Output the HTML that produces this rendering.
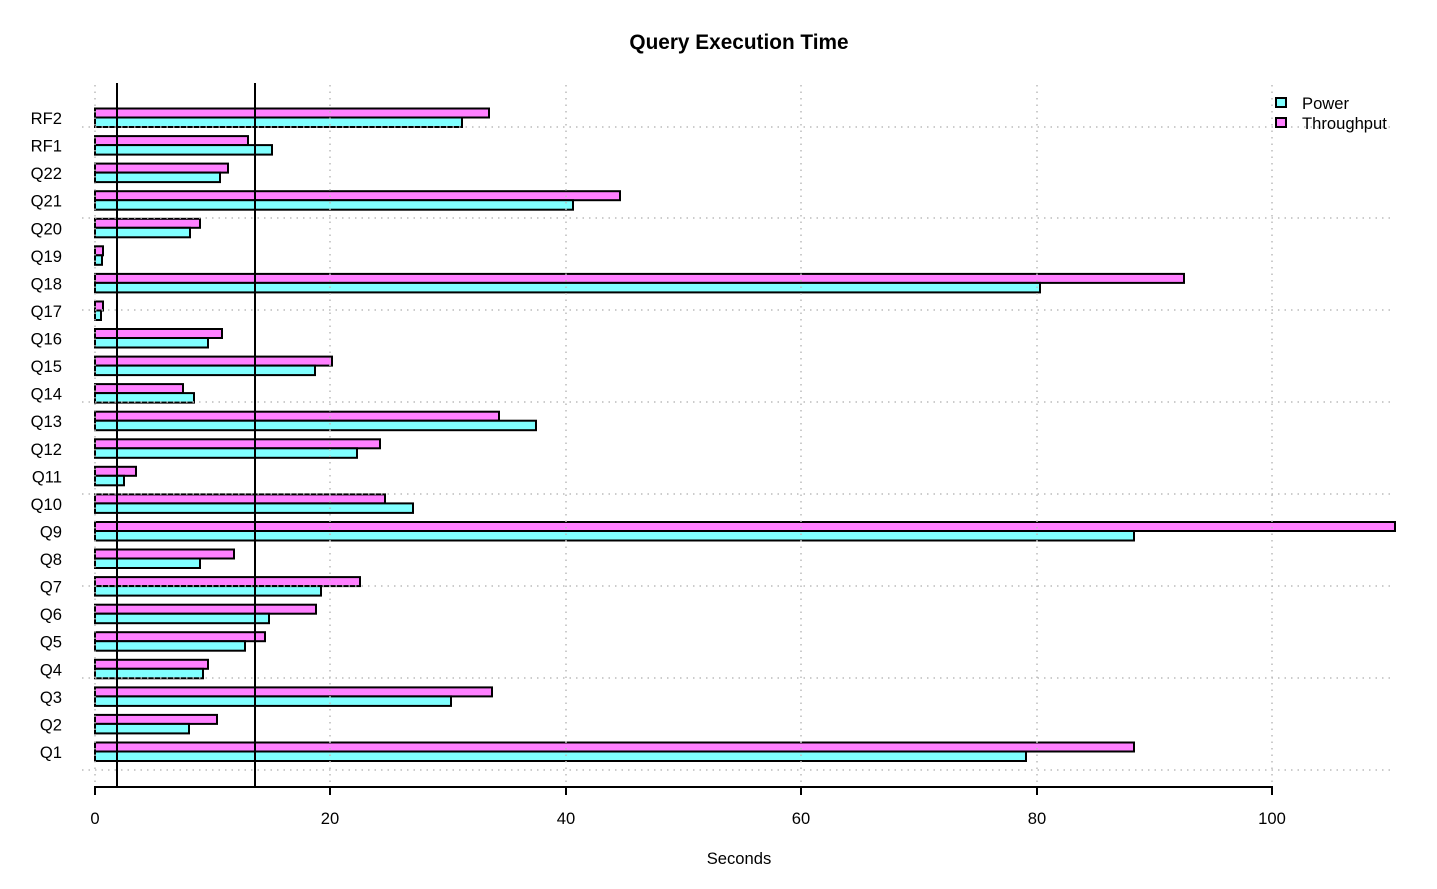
<!DOCTYPE html>
<html><head><meta charset="utf-8"><style>body{margin:0;background:#fff}svg{display:block}text{font-family:"Liberation Sans",sans-serif}</style></head><body>
<svg width="1437" height="889" xmlns="http://www.w3.org/2000/svg">
<text x="739" y="49" font-size="20.8" font-weight="bold" text-anchor="middle">Query Execution Time</text>
<g stroke="#000" stroke-width="2">
<rect x="95" y="742.5" width="1039" height="9" fill="#ff80ff"/><rect x="95" y="751.5" width="931" height="9.5" fill="#80ffff"/>
<rect x="95" y="714.9" width="122" height="9" fill="#ff80ff"/><rect x="95" y="723.9" width="94" height="9.5" fill="#80ffff"/>
<rect x="95" y="687.4" width="397" height="9" fill="#ff80ff"/><rect x="95" y="696.4" width="356" height="9.5" fill="#80ffff"/>
<rect x="95" y="659.8" width="113" height="9" fill="#ff80ff"/><rect x="95" y="668.8" width="108" height="9.5" fill="#80ffff"/>
<rect x="95" y="632.2" width="170" height="9" fill="#ff80ff"/><rect x="95" y="641.2" width="150" height="9.5" fill="#80ffff"/>
<rect x="95" y="604.7" width="221" height="9" fill="#ff80ff"/><rect x="95" y="613.7" width="174" height="9.5" fill="#80ffff"/>
<rect x="95" y="577.1" width="265" height="9" fill="#ff80ff"/><rect x="95" y="586.1" width="226" height="9.5" fill="#80ffff"/>
<rect x="95" y="549.5" width="139" height="9" fill="#ff80ff"/><rect x="95" y="558.5" width="105" height="9.5" fill="#80ffff"/>
<rect x="95" y="522.0" width="1300" height="9" fill="#ff80ff"/><rect x="95" y="531.0" width="1039" height="9.5" fill="#80ffff"/>
<rect x="95" y="494.4" width="290" height="9" fill="#ff80ff"/><rect x="95" y="503.4" width="318" height="9.5" fill="#80ffff"/>
<rect x="95" y="466.8" width="41" height="9" fill="#ff80ff"/><rect x="95" y="475.8" width="29" height="9.5" fill="#80ffff"/>
<rect x="95" y="439.3" width="285" height="9" fill="#ff80ff"/><rect x="95" y="448.3" width="262" height="9.5" fill="#80ffff"/>
<rect x="95" y="411.7" width="404" height="9" fill="#ff80ff"/><rect x="95" y="420.7" width="441" height="9.5" fill="#80ffff"/>
<rect x="95" y="384.1" width="88" height="9" fill="#ff80ff"/><rect x="95" y="393.1" width="99" height="9.5" fill="#80ffff"/>
<rect x="95" y="356.6" width="237" height="9" fill="#ff80ff"/><rect x="95" y="365.6" width="220" height="9.5" fill="#80ffff"/>
<rect x="95" y="329.0" width="127" height="9" fill="#ff80ff"/><rect x="95" y="338.0" width="113" height="9.5" fill="#80ffff"/>
<rect x="95" y="301.5" width="8" height="9" fill="#ff80ff"/><rect x="95" y="310.5" width="6" height="9.5" fill="#80ffff"/>
<rect x="95" y="273.9" width="1089" height="9" fill="#ff80ff"/><rect x="95" y="282.9" width="945" height="9.5" fill="#80ffff"/>
<rect x="95" y="246.3" width="8" height="9" fill="#ff80ff"/><rect x="95" y="255.3" width="7" height="9.5" fill="#80ffff"/>
<rect x="95" y="218.8" width="105" height="9" fill="#ff80ff"/><rect x="95" y="227.8" width="95" height="9.5" fill="#80ffff"/>
<rect x="95" y="191.2" width="525" height="9" fill="#ff80ff"/><rect x="95" y="200.2" width="478" height="9.5" fill="#80ffff"/>
<rect x="95" y="163.6" width="133" height="9" fill="#ff80ff"/><rect x="95" y="172.6" width="125" height="9.5" fill="#80ffff"/>
<rect x="95" y="136.1" width="153" height="9" fill="#ff80ff"/><rect x="95" y="145.1" width="177" height="9.5" fill="#80ffff"/>
<rect x="95" y="108.5" width="394" height="9" fill="#ff80ff"/><rect x="95" y="117.5" width="367" height="9.5" fill="#80ffff"/>
</g>
<g stroke="#bbb" stroke-width="1.5" stroke-dasharray="1.5,5">
<line x1="95" y1="85" x2="95" y2="787"/><line x1="330" y1="85" x2="330" y2="787"/><line x1="566" y1="85" x2="566" y2="787"/><line x1="801" y1="85" x2="801" y2="787"/><line x1="1037" y1="85" x2="1037" y2="787"/><line x1="1272" y1="85" x2="1272" y2="787"/>
<line x1="82" y1="770" x2="1395" y2="770"/><line x1="82" y1="678" x2="1395" y2="678"/><line x1="82" y1="586" x2="1395" y2="586"/><line x1="82" y1="494" x2="1395" y2="494"/><line x1="82" y1="402" x2="1395" y2="402"/><line x1="82" y1="310" x2="1395" y2="310"/><line x1="82" y1="218" x2="1395" y2="218"/><line x1="82" y1="127" x2="1395" y2="127"/>
</g>
<g stroke="#000" stroke-width="2">
<line x1="117" y1="83" x2="117" y2="787"/><line x1="255" y1="83" x2="255" y2="787"/>
<line x1="94" y1="787" x2="1273" y2="787"/>
<line x1="95" y1="787" x2="95" y2="795"/><line x1="330" y1="787" x2="330" y2="795"/><line x1="566" y1="787" x2="566" y2="795"/><line x1="801" y1="787" x2="801" y2="795"/><line x1="1037" y1="787" x2="1037" y2="795"/><line x1="1272" y1="787" x2="1272" y2="795"/>
<rect x="1276" y="98" width="10" height="9" fill="#80ffff"/><rect x="1276" y="118" width="10" height="9" fill="#ff80ff"/>
</g>
<g font-size="16.6" text-anchor="middle">
<text x="95" y="824">0</text><text x="330" y="824">20</text><text x="566" y="824">40</text><text x="801" y="824">60</text><text x="1037" y="824">80</text><text x="1272" y="824">100</text>
<text x="739" y="864">Seconds</text>
</g>
<g font-size="16.6"><text x="1302" y="109">Power</text><text x="1302" y="129">Throughput</text></g>
<g font-size="16.6" text-anchor="end">
<text x="62" y="758">Q1</text><text x="62" y="730.4">Q2</text><text x="62" y="702.9">Q3</text><text x="62" y="675.3">Q4</text><text x="62" y="647.7">Q5</text><text x="62" y="620.2">Q6</text><text x="62" y="592.6">Q7</text><text x="62" y="565">Q8</text><text x="62" y="537.5">Q9</text><text x="62" y="509.9">Q10</text><text x="62" y="482.3">Q11</text><text x="62" y="454.8">Q12</text><text x="62" y="427.2">Q13</text><text x="62" y="399.6">Q14</text><text x="62" y="372.1">Q15</text><text x="62" y="344.5">Q16</text><text x="62" y="317">Q17</text><text x="62" y="289.4">Q18</text><text x="62" y="261.8">Q19</text><text x="62" y="234.3">Q20</text><text x="62" y="206.7">Q21</text><text x="62" y="179.1">Q22</text><text x="62" y="151.6">RF1</text><text x="62" y="124">RF2</text>
</g>
</svg>
</body></html>
